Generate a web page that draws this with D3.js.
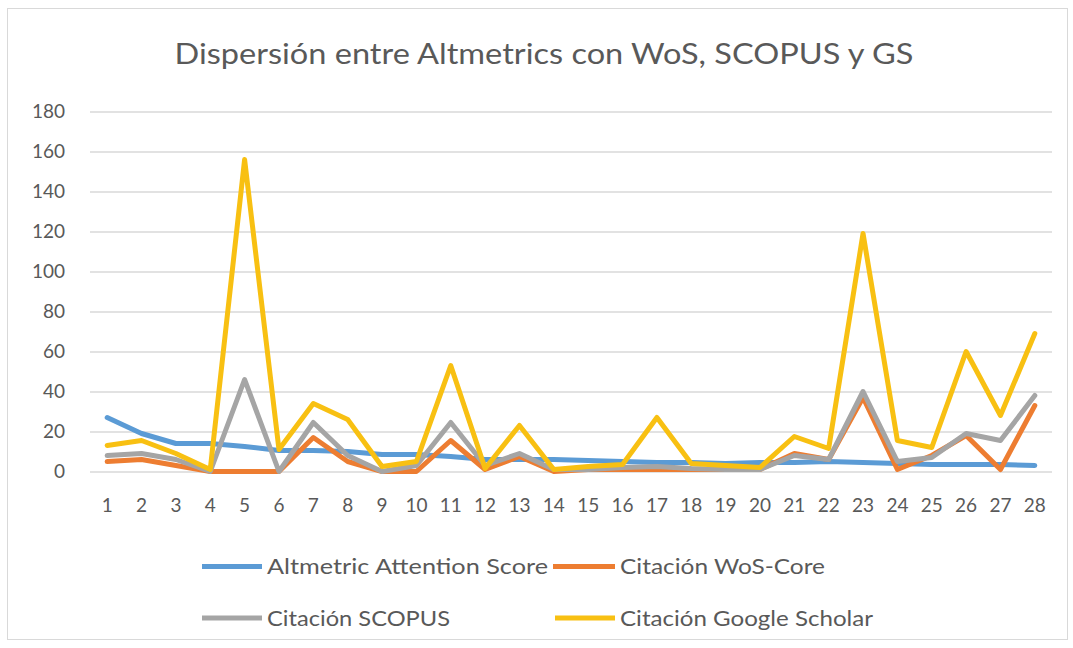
<!DOCTYPE html>
<html>
<head>
<meta charset="utf-8">
<script src="https://cdn.jsdelivr.net/npm/d3@7"></script>
<style>
  html, body { margin: 0; padding: 0; background: #fff; }
  svg { display: block; }
  text { font-family: Lato, "Open Sans", sans-serif; fill: #595959; }
</style>
</head>
<body>
<svg id="chart" width="1073" height="648"></svg>
<script>
const categories = ["1","2","3","4","5","6","7","8","9","10","11","12","13","14","15","16","17","18","19","20","21","22","23","24","25","26","27","28"];
const altmetric = [27,19,14,14,12.5,10.5,10.5,10,8.5,8.5,7.5,6,6,6,5.5,5,4.5,4.5,4,4.5,4.5,5,4.5,4,3.5,3.5,3.5,3];
const wosCore   = [5,6,3,0,0,0,17,5,0,0,15.5,1,7.5,0,1,1,1,1,1,1,9,6,37,1,8,18,1,33];
const scopus    = [8,9,6,0,46,0,24.5,8,0,3,24.5,3,9,1,1,2,2.5,1.5,1,1,8,6,40,5,7,19,15.5,38];
const scholar   = [13,15.5,9,1,156,11,34,26,2.5,5,53,1.5,23,1,2.5,3.5,27,4,3,2,17.5,11.5,119,15.5,12,60,28,69];
const yTicks = [0,20,40,60,80,100,120,140,160,180];
const seriesNames = ["Altmetric Attention Score","Citación WoS-Core","Citación SCOPUS","Citación Google Scholar"];
const title = "Dispersión entre Altmetrics con WoS, SCOPUS y GS";

const colors = ["#5B9BD5","#ED7D31","#A5A5A5","#F8C012"];
const seriesData = [altmetric, wosCore, scopus, scholar];

const svg = d3.select("#chart");

// chart border
svg.append("rect").attr("x",7.5).attr("y",8.5).attr("width",1060).attr("height",631)
  .attr("fill","#fff").attr("stroke","#d9d9d9").attr("stroke-width",1);

const x = d3.scaleBand().domain(categories).range([90,1052]).padding(0);
const y = d3.scaleLinear().domain([0,180]).range([471.5,111.5]);

// title
svg.append("text").attr("x",544).attr("y",64).attr("text-anchor","middle")
  .attr("font-size",29).attr("textLength",739).attr("lengthAdjust","spacingAndGlyphs")
  .text(title);

// gridlines
const yAxis = d3.axisLeft(y).tickValues(yTicks).tickSize(-(1052-90)).tickPadding(25);
const gy = svg.append("g").attr("transform","translate(90,0)").call(yAxis);
gy.select(".domain").remove();
gy.selectAll(".tick line").attr("stroke","#d9d9d9").attr("stroke-width",1.3);
gy.selectAll(".tick text").attr("font-size",19).attr("fill","#636363")
  .style("font-family","Lato, 'Open Sans', sans-serif");

// x axis labels
const xAxis = d3.axisBottom(x).tickSize(0).tickPadding(27);
const gx = svg.append("g").attr("transform","translate(0,471.5)").call(xAxis);
gx.select(".domain").remove();
gx.selectAll(".tick text").attr("font-size",19).attr("fill","#636363")
  .style("font-family","Lato, 'Open Sans', sans-serif");

// lines
const line = d3.line()
  .x((d,i) => x(categories[i]) + x.bandwidth()/2)
  .y(d => y(d));

seriesData.forEach((s,k) => {
  svg.append("path").datum(s).attr("d",line)
    .attr("fill","none").attr("stroke",colors[k]).attr("stroke-width",5)
    .attr("stroke-linejoin","round").attr("stroke-linecap","round");
});

// legend
const legendItems = [
  {x1:202, x2:262, tx:267, y:566.5, w:281},
  {x1:553, x2:615, tx:620, y:566.5, w:205},
  {x1:202, x2:262, tx:267, y:618, w:183},
  {x1:555, x2:615, tx:620, y:618, w:253}
];
legendItems.forEach((L,k) => {
  svg.append("line").attr("x1",L.x1).attr("x2",L.x2).attr("y1",L.y).attr("y2",L.y)
    .attr("stroke",colors[k]).attr("stroke-width",5);
  svg.append("text").attr("x",L.tx).attr("y",L.y+7.5).attr("font-size",21)
    .attr("fill","#636363")
    .attr("textLength",L.w).attr("lengthAdjust","spacingAndGlyphs")
    .text(seriesNames[k]);
});
</script>
</body>
</html>
